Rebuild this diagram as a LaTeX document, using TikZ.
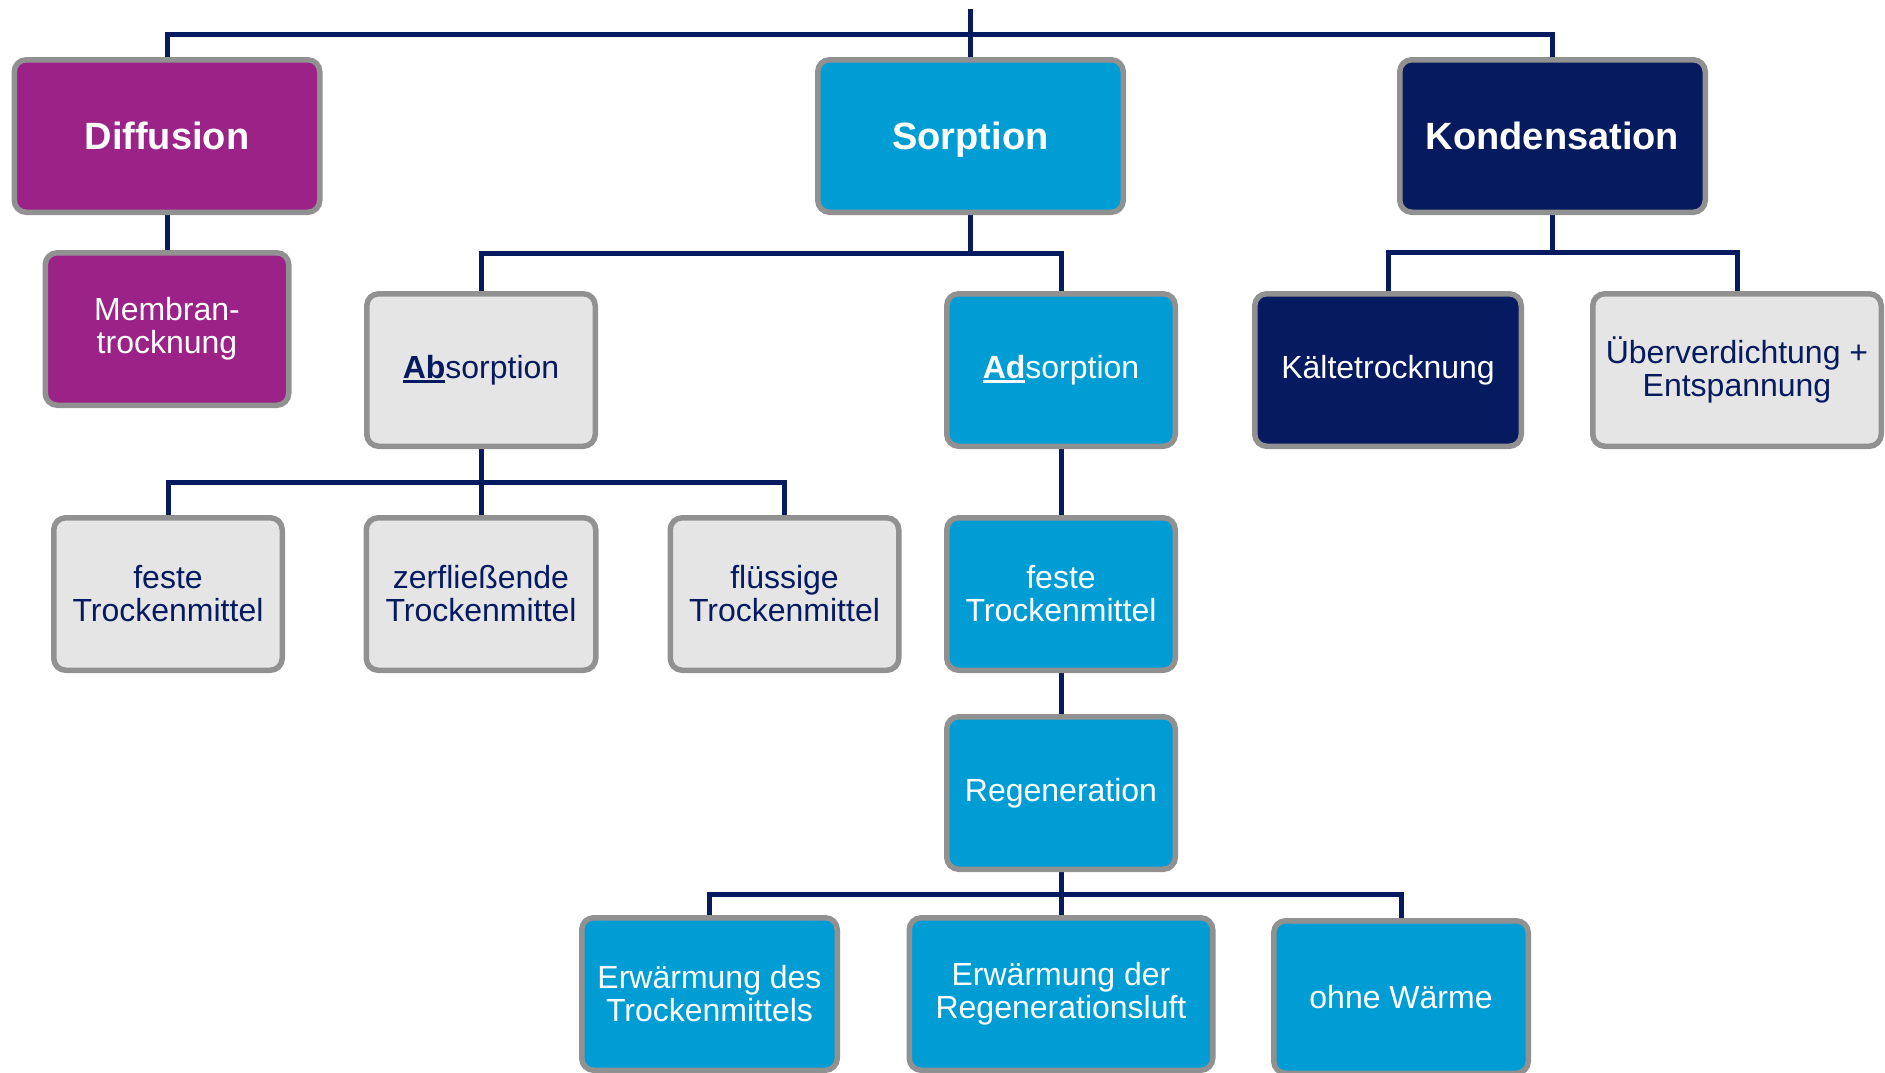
\documentclass[tikz,border=0pt]{standalone}
\usepackage{fontspec}
\setmainfont{Liberation Sans}
\usetikzlibrary{backgrounds}
\definecolor{dpurple}{RGB}{155,34,135}
\definecolor{dblue}{RGB}{0,157,213}
\definecolor{dnavy}{RGB}{6,26,96}
\definecolor{lgray}{RGB}{229,229,229}
\definecolor{bordergray}{RGB}{145,145,145}
\newcommand\thickul[1]{\setbox0\hbox{#1}\rlap{\rule[-2.6pt]{\wd0}{1.6pt}}\box0}
\tikzset{
  box/.style={draw=bordergray, line width=2.75pt, rounded corners=6pt, align=center,
    inner sep=0pt, font=\fontsize{16}{16.5}\selectfont},
  sz/.style 2 args={minimum width={#1*0.5pt-2.75pt}, minimum height={#2*0.5pt-2.75pt}},
  purplebox/.style={box, fill=dpurple, text=white},
  bluebox/.style={box, fill=dblue, text=white},
  navybox/.style={box, fill=dnavy, text=white},
  graybox/.style={box, fill=lgray, text=dnavy},
  head/.style={font=\fontsize{19}{20}\selectfont\bfseries, text depth=0pt},
  conn/.style={draw=dnavy, line width=2.5pt},
}
\begin{document}
\begin{tikzpicture}[x=0.5pt, y=-0.5pt]
\useasboundingbox (0,0) rectangle (1885,1072);
% top level
\node[purplebox, head, sz={311}{158}] (diff) at (167,136) {Diffusion};
\node[bluebox, head, sz={311}{158}] (sorp) at (970.5,136) {Sorption};
\node[navybox, head, sz={311}{158}] (kond) at (1552.5,136) {Kondensation};
% second level
\node[purplebox, sz={249}{158}] (membran) at (167,329) {Membran-\\trocknung};
\node[graybox, sz={234}{158}] (absorp) at (481,370) {\textbf{\thickul{Ab}}sorption};
\node[bluebox, sz={234}{158}] (adsorp) at (1061,370) {\textbf{\thickul{Ad}}sorption};
\node[navybox, sz={272}{158}] (kaelte) at (1388,370) {Kältetrocknung};
\node[graybox, sz={294}{158}] (ueber) at (1737,370) {Überverdichtung +\\Entspannung};
% third level
\node[graybox, sz={234}{158}] (feste) at (168,594) {feste\\Trockenmittel};
\node[graybox, sz={235}{158}] (zerfl) at (481,594) {zerfließende\\Trockenmittel};
\node[graybox, sz={234}{158}] (fluess) at (784.5,594) {flüssige\\Trockenmittel};
\node[bluebox, sz={234}{158}] (festeb) at (1061,594) {feste\\Trockenmittel};
% regeneration
\node[bluebox, sz={234}{158}] (regen) at (1061,793) {Regeneration};
\node[bluebox, sz={261}{158}] (erwdes) at (709.5,994) {Erwärmung des\\Trockenmittels};
\node[bluebox, sz={309}{158}] (erwder) at (1061,994) {Erwärmung der\\Regenerationsluft};
\node[bluebox, sz={260}{158}] (ohne) at (1401,997) {ohne Wärme};
% connectors
\coordinate (top) at (970.5,9);
\coordinate (bus0) at (970.5,34);
\coordinate (bus1) at (970.5,253);
\coordinate (bus2) at (1552.5,252);
\coordinate (bus3) at (481,482);
\coordinate (bus4) at (1061,894);
\begin{pgfonlayer}{background}
\draw[conn] (top) -- (sorp.north);
\draw[conn] (diff.north) |- (bus0) -| (kond.north);
\draw[conn] (diff.south) -- (membran.north);
\draw[conn] (sorp.south) -- (bus1);
\draw[conn] (absorp.north) |- (bus1) -| (adsorp.north);
\draw[conn] (kond.south) -- (bus2);
\draw[conn] (kaelte.north) |- (bus2) -| (ueber.north);
\draw[conn] (absorp.south) -- (zerfl.north);
\draw[conn] (feste.north) |- (bus3) -| (fluess.north);
\draw[conn] (adsorp.south) -- (festeb.north);
\draw[conn] (festeb.south) -- (regen.north);
\draw[conn] (regen.south) -- (erwder.north);
\draw[conn] (erwdes.north) |- (bus4) -| (ohne.north);
\end{pgfonlayer}
\end{tikzpicture}
\end{document}
